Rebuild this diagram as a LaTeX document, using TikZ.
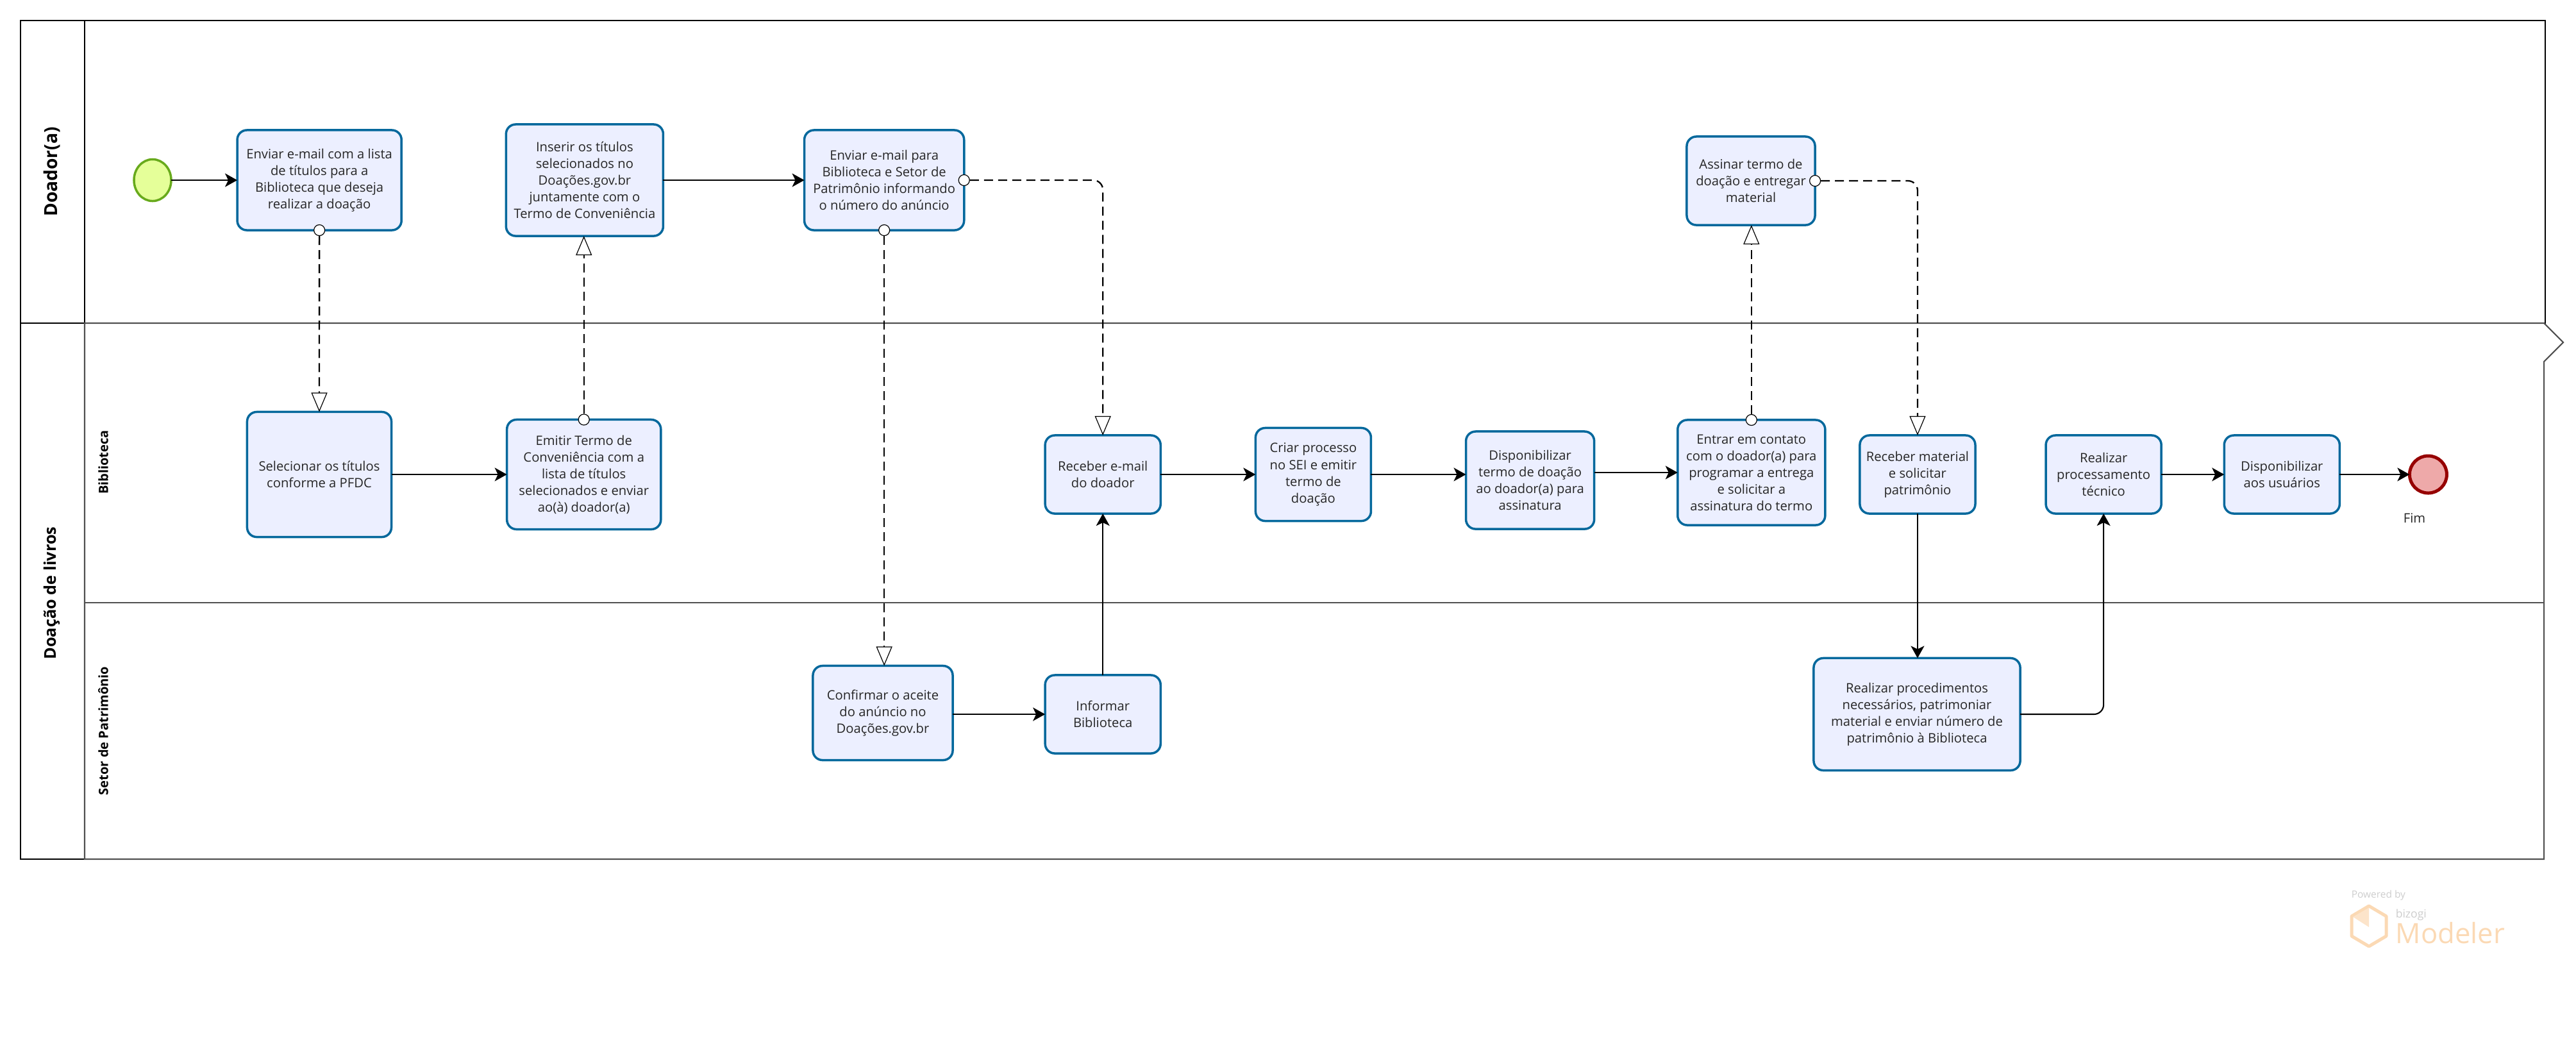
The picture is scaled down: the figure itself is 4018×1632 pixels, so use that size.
\documentclass[tikz,border=0pt]{standalone}
\usepackage{fontspec}
\setmainfont{Open Sans}
\usetikzlibrary{positioning,arrows.meta,shapes.geometric}
\definecolor{taskBlue}{RGB}{4,104,156}
\definecolor{taskFill}{RGB}{236,239,255}
\definecolor{startGreen}{RGB}{104,170,28}
\definecolor{startFill}{RGB}{229,255,153}
\definecolor{endRed}{RGB}{150,0,0}
\definecolor{endFill}{RGB}{238,169,169}
\definecolor{laneGray}{RGB}{80,80,80}
\definecolor{logoOrange}{RGB}{251,217,180}
\definecolor{logoGray}{RGB}{205,205,205}
\begin{document}
\begin{tikzpicture}[
    x=0.01cm, y=-0.01cm,
    block/.style 2 args={
      rectangle,
      rounded corners=.15cm,
      draw=taskBlue,
      fill=taskFill,
      line width=.035cm,
      outer sep=0pt,
      inner sep=0pt,
      minimum width=#1cm,
      minimum height=#2cm,
      align=center,
      text=black!85,
      font=\fontsize{5.75}{7.4}\selectfont
    },
    arrow/.style={
      -{Stealth[length=.19cm, width=.21cm, inset=.05cm]},
      line width=.021cm,
      draw=black
    },
    msg arrow/.style={
      -{Triangle[fill=white, length=.3cm, width=.25cm, line width=.012cm]},
      line width=.023cm,
      draw=black,
      dash pattern=on .14cm off .08cm
    },
    port/.style={
      circle,
      draw=black,
      fill=white,
      line width=.012cm,
      inner sep=0pt,
      minimum size=.17cm
    },
    pool head/.style={rotate=90, font=\fontsize{7.2}{8}\selectfont\bfseries},
    lane head/.style={rotate=90, font=\fontsize{5.7}{6}\selectfont\bfseries},
    pool line/.style={draw=black, line width=.021cm},
    lane line/.style={draw=laneGray, line width=.021cm}
  ]
    \useasboundingbox (0,0) rectangle (4018,1632);

    % pools and lanes
    \draw[pool line] (32,32) rectangle (3970,504);
    \draw[pool line] (132,32) -- (132,504);
    \draw[pool line] (132,504) -- (32,504) -- (32,1340) -- (132,1340);
    \draw[lane line] (132,504) -- (3968,504) -- (3998,534) -- (3968,564) -- (3968,1340) -- (132,1340) -- cycle;
    \draw[lane line] (132,940) -- (3968,940);
    \node[pool head, font=\fontsize{8}{9}\selectfont\bfseries] (h1) at (81,268) {Doador(a)};
    \node[pool head] (h2) at (81,925) {Doação de livros};
    \node[lane head] (h3) at (161,721) {Biblioteca};
    \node[lane head] (h4) at (161,1140) {Setor de Patrimônio};

    \node[ellipse, draw=startGreen, fill=startFill, line width=.035cm, outer sep=0pt,
          minimum width=.58cm, minimum height=.65cm] (ini) at (238,281) {};
    \node[block={2.56}{1.56}, right=1.03cm of ini] (b1) {Enviar e-mail com a lista\\de títulos para a\\Biblioteca que deseja\\realizar a doação};
    \node[block={2.45}{1.74}, right=1.63cm of b1] (b2) {Inserir os títulos\\selecionados no\\Doações.gov.br\\juntamente com o\\Termo de Conveniência};
    \node[block={2.49}{1.56}, right=2.2cm of b2] (b3) {Enviar e-mail para\\Biblioteca e Setor de\\Patrimônio informando\\o número do anúncio};
    \node[block={2.00}{1.38}] (b11) at (2731,282) {Assinar termo de\\doação e entregar\\material};

    \node[block={2.25}{1.95}] (b4) at (498,740) {Selecionar os títulos\\conforme a PFDC};
    \node[block={2.40}{1.71}, right=1.8cm of b4] (b5) {Emitir Termo de\\Conveniência com a\\lista de títulos\\selecionados e enviar\\ao(à) doador(a)};
    \node[block={1.80}{1.22}, right=5.99cm of b5] (b6) {Receber e-mail\\do doador};
    \node[block={1.80}{1.45}, right=1.48cm of b6] (b7) {Criar processo\\no SEI e emitir\\termo de\\doação};
    \node[block={2.00}{1.52}, right=1.48cm of b7, yshift=-.09cm] (b8) {Disponibilizar\\termo de doação\\ao doador(a) para\\assinatura};
    \node[block={2.30}{1.64}, right=1.3cm of b8, yshift=.12cm] (b9) {Entrar em contato\\com o doador(a) para\\programar a entrega\\e solicitar a\\assinatura do termo};
    \node[block={1.80}{1.22}, right=.54cm of b9, yshift=-.03cm] (b10) {Receber material\\e solicitar\\patrimônio};
    \node[block={1.80}{1.22}, right=1.1cm of b10] (b12) {Realizar\\processamento\\técnico};
    \node[block={1.80}{1.22}, right=.98cm of b12] (b13) {Disponibilizar\\aos usuários};
    \node[circle, draw=endRed, fill=endFill, line width=.05cm, outer sep=0pt,
          minimum size=.58cm, inner sep=0pt, right=1.09cm of b13] (fim) {};
    \node[font=\fontsize{5.75}{7.4}\selectfont, text=black!85] (fimtxt) at (3766,808) {Fim};

    \node[block={2.18}{1.47}] (b15) at (1377,1112) {Confirmar o aceite\\do anúncio no\\Doações.gov.br};
    \node[block={1.80}{1.22}, right=1.44cm of b15, yshift=-.02cm] (b16) {Informar\\Biblioteca};
    \node[block={3.22}{1.75}] (b14) at (2990,1114) {Realizar procedimentos\\necessários, patrimoniar\\material e enviar número de\\patrimônio à Biblioteca};

    \node[port] (d1) at (b1.south) {};
    \node[port] (d5) at (b5.north) {};
    \node[port] (d3) at (b3.east) {};
    \node[port] (d3b) at (b3.south) {};
    \node[port] (d9) at (b9.north) {};
    \node[port] (d11) at (b11.east) {};

    \draw[arrow] (ini) -- (b1);
    \draw[arrow] (b2) -- (b3);
    \draw[arrow] (b4) -- (b5);
    \draw[arrow] (b6) -- (b7);
    \draw[arrow] (b7.east) -- (b7.east -| b8.west);
    \draw[arrow] (b8.east |- b9.west) -- (b9.west);
    \draw[arrow] (b15.east |- b16.west) -- (b16.west);
    \draw[arrow] (b6.south |- b16.north) -- (b6.south);
    \draw[arrow] (b10.south) -- (b10.south |- b14.north);
    \draw[arrow, rounded corners=.15cm] (b14.east) -| (b12.south);
    \draw[arrow] (b12) -- (b13);
    \draw[arrow] (b13) -- (fim);

    \draw[msg arrow] (d1) -- (b4);
    \draw[msg arrow] (d5.north) -- (d5.north |- b2.south);
    \draw[msg arrow, rounded corners=.15cm] (d3.east) -| (b6.north);
    \draw[msg arrow] (d3b) -- (d3b |- b15.north);
    \draw[msg arrow] (d9.north) -- (d9.north |- b11.south);
    \draw[msg arrow, rounded corners=.15cm] (d11.east) -| (b10.north);

    % logo
    \draw[logoOrange, line width=.05cm, line join=round]
      (3695,1413) -- (3722,1429) -- (3722,1460) -- (3695,1476) -- (3668,1460) -- (3668,1429) -- cycle;
    \fill[logoOrange!70] (3670,1430) -- (3695,1416) -- (3695,1446) -- cycle;
    \node[anchor=west, inner sep=0pt, text=logoGray, font=\fontsize{4.4}{5}\selectfont] (pw) at (3667,1396) {Powered by};
    \node[anchor=west, inner sep=0pt, text=logoGray, font=\fontsize{5}{5}\selectfont] (bz) at (3736,1427) {bizogi};
    \node[anchor=west, inner sep=0pt, text=logoOrange, font=\fontsize{12.4}{14}\selectfont] (md) at (3736,1455) {Modeler};
  \end{tikzpicture}
\end{document}
